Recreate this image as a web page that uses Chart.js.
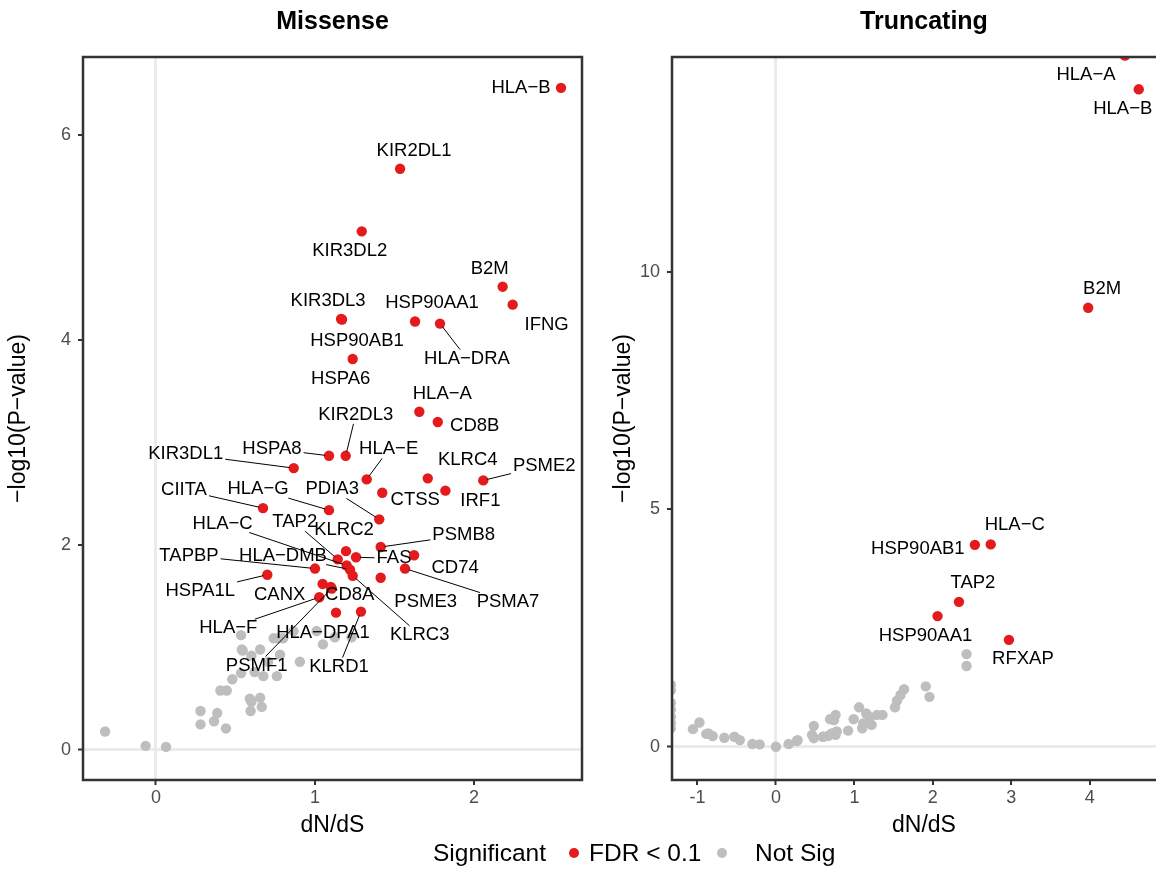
<!DOCTYPE html>
<html>
<head>
<meta charset="utf-8">
<script src="https://cdn.jsdelivr.net/npm/chart.js@4.4.0/dist/chart.umd.min.js"></script>
<style>
  html, body { margin: 0; padding: 0; background: #fff; width: 1156px; height: 871px; overflow: hidden; }
  canvas { position: absolute; top: 0; }
  #missense { left: 0; }
  #truncating { left: 590px; }
  .legend { position: absolute; top: 839px; line-height: 28px; font-family: "Liberation Sans", Arial, sans-serif; font-size: 24.5px; color: #000; white-space: nowrap; }
  .dot { position: absolute; width: 10px; height: 10px; border-radius: 50%; top: 848px; }
</style>
</head>
<body>
<canvas id="missense" width="590" height="845"></canvas>
<canvas id="truncating" width="594" height="845"></canvas>
<div class="legend" style="left:433px">Significant</div>
<div class="dot" style="left:569px;background:#E41A1C"></div>
<div class="legend" style="left:589px">FDR &lt; 0.1</div>
<div class="dot" style="left:717px;background:#BEBEBE"></div>
<div class="legend" style="left:755px">Not Sig</div>
<script>
// ---- Missense: significant genes (FDR < 0.1)
const misSigGenes = ['HLA−B', 'KIR2DL1', 'KIR3DL2', 'B2M', 'IFNG', 'KIR3DL3', 'HSP90AB1', 'HSP90AA1',
  'HLA−DRA', 'HSPA6', 'HLA−A', 'CD8B', 'KIR2DL3', 'HSPA8', 'KIR3DL1', 'HLA−E', 'KLRC4', 'PSME2',
  'CTSS', 'IRF1', 'CIITA', 'HLA−G', 'PDIA3', 'PSMB8', 'CD74', 'KLRC2', 'FAS', 'TAP2', 'HLA−C',
  'HLA−DMB', 'KLRC3', 'TAPBP', 'PSMA7', 'PSME3', 'HSPA1L', 'CANX', 'CD8A', 'PSMF1', 'HLA−F',
  'HLA−DPA1', 'KLRD1'];
const misSigDnds = [2.547, 1.535, 1.294, 2.18, 2.243, 1.164, 1.17, 1.629,
  1.786, 1.237, 1.656, 1.772, 1.193, 1.088, 0.866, 1.325, 1.709, 2.058,
  1.423, 1.82, 0.673, 1.088, 1.404, 1.413, 1.623, 1.195, 1.258, 1.143, 1.199,
  1.22, 1.237, 1.0, 1.566, 1.413, 0.70, 1.048, 1.099, 1.105, 1.027,
  1.132, 1.289];
const misSigLogP = [6.46, 5.67, 5.06, 4.52, 4.345, 4.205, 4.20, 4.18,
  4.16, 3.815, 3.30, 3.20, 2.87, 2.87, 2.75, 2.64, 2.65, 2.63,
  2.51, 2.53, 2.36, 2.34, 2.25, 1.98, 1.90, 1.94, 1.88, 1.86, 1.80,
  1.76, 1.70, 1.77, 1.77, 1.68, 1.71, 1.62, 1.59, 1.575, 1.49,
  1.34, 1.35];

// ---- Missense: not significant
const misNsDnds = [-0.32, -0.065, 0.063, 0.28, 0.28, 0.385, 0.365, 0.44, 0.405, 0.445, 0.48, 0.535,
  0.545, 0.535, 0.6, 0.655, 0.62, 0.675, 0.59, 0.6, 0.655, 0.595, 0.665, 0.74, 0.80, 0.78, 0.76,
  0.705, 0.865, 0.905, 1.01, 1.05, 1.125, 1.23, 0.77, 0.54];
const misNsLogP = [0.18, 0.04, 0.03, 0.38, 0.25, 0.36, 0.28, 0.21, 0.58, 0.58, 0.69, 0.75,
  0.97, 1.12, 0.92, 0.98, 0.76, 0.72, 0.50, 0.47, 0.51, 0.38, 0.42, 1.09, 1.09, 0.93, 0.72,
  0.86, 1.16, 0.86, 1.16, 1.03, 1.10, 1.10, 1.09, 0.98];

// ---- Truncating: significant genes
const truncSigGenes = ['HLA−A', 'HLA−B', 'B2M', 'HLA−C', 'HSP90AB1', 'TAP2', 'HSP90AA1', 'RFXAP'];
const truncSigDnds = [4.45, 4.625, 3.98, 2.738, 2.536, 2.333, 2.06, 2.97];
const truncSigLogP = [14.55, 13.84, 9.24, 4.26, 4.25, 3.05, 2.75, 2.25];

// ---- Truncating: not significant
const truncNsDnds = [2.43, 2.43, 1.91, 1.957, 1.633, 1.588, 1.543, 1.518, 1.358, 1.289, 1.197, 1.151,
  1.06, 0.99, 1.10, 1.22, 1.113, 0.92, 0.76, 0.69, 0.74, 0.76, 0.668, 0.60, 0.483, 0.46, 0.483,
  0.277, 0.265, 0.162, 0.0, -0.207, -0.30, -0.46, -0.53, -0.658, -0.806, -0.888, -0.862, -1.058,
  -0.975, 0.71, 0.775, 0.605, -1.34, -1.34, -1.34, -1.34, -1.34, -1.34, -1.34];
const truncNsLogP = [1.95, 1.70, 1.27, 1.05, 1.21, 1.09, 0.97, 0.83, 0.67, 0.67, 0.62, 0.70,
  0.83, 0.58, 0.39, 0.46, 0.49, 0.34, 0.67, 0.58, 0.56, 0.25, 0.23, 0.21, 0.44, 0.25, 0.18,
  0.14, 0.12, 0.057, 0.0, 0.05, 0.057, 0.14, 0.21, 0.19, 0.225, 0.27, 0.28, 0.37,
  0.51, 0.28, 0.32, 0.21, 1.30, 1.19, 0.92, 0.78, 0.63, 0.50, 0.39];

// axis ticks
const misXTicks = [0, 1, 2];
const misYTicks = [0, 2, 4, 6];
const truncXTicks = [-1, 0, 1, 2, 3, 4];
const truncYTicks = [0, 5, 10];

// label placement (px offset of label centre from its point, draw leader line)
const misLabelOffsets = [[-40, 0, 0], [14, -18, 0], [-12, 20, 0], [-13, -18, 0], [34, 20, 0], [-13, -18, 0],
  [15, 21, 0], [17, -19, 0], [27, 35, 1], [-12, 20, 0], [23, -18, 0], [37, 4, 0], [10, -41, 1],
  [-57, -7, 1], [-108, -14, 1], [22, -30, 1], [40, -18, 0], [61, -15, 1], [33, 7, 0], [35, 10, 0],
  [-79, -18, 1], [-71, -21, 1], [-47, -30, 1], [83, -12, 1], [41, 13, 0], [-2, -21, 0], [38, 1, 1],
  [-43, -37, 1], [-124, -42, 1], [-67, -14, 1], [67, 59, 1], [-126, -13, 1], [103, 33, 1],
  [45, 24, 0], [-67, 16, 1], [-43, 11, 0], [19, 8, 0], [-75, 77, 1], [-91, 31, 1], [-13, 20, 0],
  [-22, 55, 1]];
const truncLabelOffsets = [[-39, 19, 0], [-16, 20, 0], [14, -19, 0], [24, -19, 0], [-57, 4, 0],
  [14, -19, 0], [-12, 20, 0], [14, 19, 0]];

const FONT = '"Liberation Sans", Arial, sans-serif';
const RED = '#E41A1C';
const GREY = '#BEBEBE';
Chart.defaults.font.family = FONT;

const toPoints = (xs, ys) => xs.map((x, i) => ({ x: x, y: ys[i] }));

// panel frame drawn over the points
const panelFrame = {
  id: 'panelFrame',
  afterDatasetsDraw(chart) {
    const { ctx, chartArea: a } = chart;
    ctx.save();
    ctx.strokeStyle = '#333333';
    ctx.lineWidth = 2.5;
    ctx.strokeRect(a.left, a.top, a.right - a.left, a.bottom - a.top);
    ctx.restore();
  }
};

// gene names next to the significant points, with leader lines when pushed away
const geneLabels = {
  id: 'geneLabels',
  afterDatasetsDraw(chart, args, opts) {
    const ctx = chart.ctx;
    const meta = chart.getDatasetMeta(opts.dataset);
    ctx.save();
    ctx.font = '18.5px ' + FONT;
    ctx.textAlign = 'center';
    ctx.textBaseline = 'middle';
    ctx.fillStyle = '#000';
    ctx.strokeStyle = '#000';
    ctx.lineWidth = 1;
    opts.names.forEach((name, i) => {
      const pt = meta.data[i];
      const [dx, dy, seg] = opts.offsets[i];
      const lx = pt.x + dx, ly = pt.y + dy;
      if (seg) {
        const hw = ctx.measureText(name).width / 2 + 2;
        const hh = 9;
        const vx = pt.x - lx, vy = pt.y - ly;
        const t = Math.min(vx ? hw / Math.abs(vx) : Infinity, vy ? hh / Math.abs(vy) : Infinity);
        const len = Math.hypot(vx, vy);
        ctx.beginPath();
        ctx.moveTo(lx + vx * t, ly + vy * t);
        ctx.lineTo(pt.x - vx / len * 4, pt.y - vy / len * 4);
        ctx.stroke();
      }
      ctx.fillText(name, lx, ly);
    });
    ctx.restore();
  }
};

function makeAxis(min, max, ticks, title, titlePad, isY) {
  return {
    type: 'linear',
    min: min,
    max: max,
    afterBuildTicks: s => { s.ticks = ticks.map(v => ({ value: v })); },
    afterFit: s => { if (isY) s.width = isY; else s.height = 65; },
    grid: {
      color: c => (c.tick && c.tick.value === 0 ? '#EBEBEB' : 'rgba(0,0,0,0)'),
      lineWidth: c => (c.tick && c.tick.value === 0 ? 3 : 0),
      tickColor: '#333333',
      tickWidth: 2,
      tickLength: 5
    },
    border: { display: false },
    ticks: {
      color: '#4D4D4D',
      font: { size: 18 },
      padding: isY ? 7 : 2
    },
    title: {
      display: true,
      text: title,
      color: '#000',
      font: { size: 23 },
      padding: isY ? { top: titlePad, bottom: 0 } : { top: 0, bottom: titlePad }
    }
  };
}

function makePanel(id, cfg) {
  return new Chart(document.getElementById(id), {
    type: 'scatter',
    data: {
      datasets: [
        {
          data: toPoints(cfg.nsX, cfg.nsY),
          backgroundColor: GREY,
          borderWidth: 0,
          pointRadius: 5.2,
          clip: 0
        },
        {
          data: toPoints(cfg.sigX, cfg.sigY),
          backgroundColor: RED,
          borderWidth: 0,
          pointRadius: 5.2,
          clip: 0
        }
      ]
    },
    options: {
      responsive: false,
      animation: false,
      events: [],
      layout: { padding: { left: 0, right: 8, top: 0, bottom: 0 } },
      plugins: {
        legend: { display: false },
        tooltip: { enabled: false },
        title: {
          display: true,
          text: cfg.title,
          color: '#000',
          fullSize: false,
          font: { size: 25, weight: 'bold' },
          padding: { top: 7.5, bottom: 19.5 }
        },
        geneLabels: { dataset: 1, names: cfg.names, offsets: cfg.offsets }
      },
      scales: {
        x: makeAxis(cfg.xMin, cfg.xMax, cfg.xTicks, 'dN/dS', 5.2, 0),
        y: makeAxis(cfg.yMin, cfg.yMax, cfg.yTicks, '−log10(P−value)', cfg.yTitlePad, cfg.yWidth)
      }
    },
    plugins: [panelFrame, geneLabels]
  });
}

makePanel('missense', {
  title: 'Missense',
  sigX: misSigDnds, sigY: misSigLogP, nsX: misNsDnds, nsY: misNsLogP,
  names: misSigGenes, offsets: misLabelOffsets,
  xMin: -0.459, xMax: 2.679, xTicks: misXTicks,
  yMin: -0.293, yMax: 6.761, yTicks: misYTicks,
  yWidth: 83, yTitlePad: 5.2
});

makePanel('truncating', {
  title: 'Truncating',
  sigX: truncSigDnds, sigY: truncSigLogP, nsX: truncNsDnds, nsY: truncNsLogP,
  names: truncSigGenes, offsets: truncLabelOffsets,
  xMin: -1.325, xMax: 5.10, xTicks: truncXTicks,
  yMin: -0.70, yMax: 14.52, yTicks: truncYTicks,
  yWidth: 82, yTitlePad: 20.2
});
</script>
</body>
</html>
